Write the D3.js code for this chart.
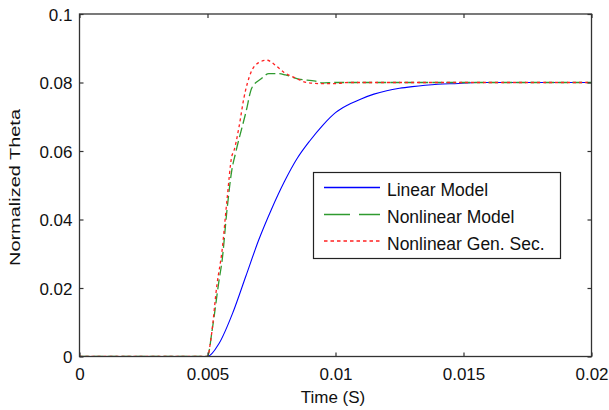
<!DOCTYPE html>
<html>
<head>
<meta charset="utf-8">
<script src="https://cdn.jsdelivr.net/npm/d3@7"></script>
<style>
  html, body { margin: 0; padding: 0; background: #fff; }
  svg text { font-family: "Liberation Sans", Arial, sans-serif; fill: #111; }
</style>
</head>
<body>
<svg id="chart" width="609" height="410"></svg>
<script>
// ---- data (time in seconds, normalized theta) ----
const linearT = [0, 0.00498, 0.0050, 0.00545, 0.0060, 0.0065, 0.0070, 0.0075, 0.0080, 0.0085, 0.0090, 0.0095, 0.0100, 0.0105, 0.0110, 0.0115, 0.0120, 0.0125, 0.0130, 0.0135, 0.0140, 0.0148, 0.0155, 0.0200];
const linearY = [0, 0, 0, 0.0038, 0.0130, 0.0235, 0.0340, 0.0430, 0.0510, 0.0578, 0.0630, 0.0675, 0.0712, 0.0735, 0.0752, 0.0766, 0.0776, 0.0783, 0.0788, 0.0792, 0.0795, 0.0797, 0.0800, 0.0800];

const nonlinT = [0, 0.00498, 0.0050, 0.00518, 0.00545, 0.00557, 0.00576, 0.00595, 0.0061, 0.0065, 0.00673, 0.00708, 0.0074, 0.00778, 0.00805, 0.00856, 0.00922, 0.00946, 0.0100, 0.0200];
const nonlinY = [0, 0, 0, 0.0076, 0.0222, 0.0280, 0.0427, 0.0544, 0.0595, 0.0713, 0.0784, 0.0810, 0.0826, 0.0826, 0.0822, 0.0810, 0.0804, 0.0799, 0.0800, 0.0800];

const genSecT = [0, 0.00495, 0.0050, 0.00514, 0.00537, 0.00557, 0.00576, 0.00595, 0.00603, 0.00623, 0.00642, 0.0067, 0.0070, 0.00732, 0.00766, 0.00798, 0.00844, 0.00887, 0.00934, 0.0100, 0.0105, 0.0200];
const genSecY = [0, 0, 0, 0.0055, 0.0210, 0.0310, 0.0456, 0.0585, 0.0600, 0.0670, 0.0754, 0.0830, 0.0858, 0.0865, 0.0850, 0.0830, 0.0813, 0.0800, 0.0797, 0.0797, 0.0800, 0.0800];

const xTicks = [0, 0.005, 0.01, 0.015, 0.02];
const xTickLabels = ["0", "0.005", "0.01", "0.015", "0.02"];
const yTicks = [0, 0.02, 0.04, 0.06, 0.08, 0.1];
const yTickLabels = ["0", "0.02", "0.04", "0.06", "0.08", "0.1"];

const seriesNames = ["Linear Model", "Nonlinear Model", "Nonlinear Gen. Sec."];
const xLabel = "Time (S)";
const yLabel = "Normalized Theta";

// ---- layout ----
const L = 79.5, R = 591.5, T = 14, B = 356.5;
const svg = d3.select("#chart");
const x = d3.scaleLinear().domain([0, 0.02]).range([L, R]);
const y = d3.scaleLinear().domain([0, 0.1]).range([B, T]);

const styles = [
  { color: "#0000ff", dash: null, legendDash: null, width: 1.1 },
  { color: "#2f9a2f", dash: "10,4", legendDash: "26,9", width: 1.3 },
  { color: "#ff2020", dash: "3,3", legendDash: "3.5,3", width: 1.3 }
];

const seriesData = [
  linearT.map((t, i) => [t, linearY[i]]),
  nonlinT.map((t, i) => [t, nonlinY[i]]),
  genSecT.map((t, i) => [t, genSecY[i]])
];

svg.append("clipPath").attr("id", "clip")
  .append("rect").attr("x", L).attr("y", T).attr("width", R - L).attr("height", B - T);

const line = d3.line().x(d => x(d[0])).y(d => y(d[1])).curve(d3.curveMonotoneX);

const plot = svg.append("g").attr("clip-path", "url(#clip)");
seriesData.forEach((d, i) => {
  plot.append("path")
    .attr("d", line(d))
    .attr("fill", "none")
    .attr("stroke", styles[i].color)
    .attr("stroke-width", styles[i].width)
    .attr("stroke-dasharray", styles[i].dash);
});

// ---- axes (MATLAB style, ticks inward on all sides) ----
const axisColor = "#333";
const tk = 4;
const fs = 17;
const ax = svg.append("g");
ax.append("rect").attr("x", L).attr("y", T).attr("width", R - L).attr("height", B - T)
  .attr("fill", "none").attr("stroke", axisColor).attr("stroke-width", 1.3);

const axBottom = d3.axisBottom(x).tickValues(xTicks).tickFormat((d, i) => xTickLabels[i]).tickSizeInner(-tk).tickSizeOuter(0).tickPadding(8);
const axTop = d3.axisTop(x).tickValues(xTicks).tickFormat("").tickSizeInner(-tk).tickSizeOuter(0);
const axLeft = d3.axisLeft(y).tickValues(yTicks).tickFormat((d, i) => yTickLabels[i]).tickSizeInner(-tk).tickSizeOuter(0).tickPadding(7);
const axRight = d3.axisRight(y).tickValues(yTicks).tickFormat("").tickSizeInner(-tk).tickSizeOuter(0);

function styleAxis(g) {
  g.select(".domain").remove();
  g.selectAll(".tick line").attr("stroke", axisColor).attr("stroke-width", 1.2);
  g.selectAll(".tick text").attr("font-size", fs).attr("fill", "#111").style("font-family", "'Liberation Sans', Arial, sans-serif");
}
const gB = ax.append("g").attr("transform", `translate(0,${B})`).call(axBottom).call(styleAxis);
gB.selectAll(".tick text").attr("dy", null).attr("y", 23.5);
ax.append("g").attr("transform", `translate(0,${T})`).call(axTop).call(styleAxis);
const gL = ax.append("g").attr("transform", `translate(${L},0)`).call(axLeft).call(styleAxis);
gL.selectAll(".tick text").attr("dy", "0.36em");
ax.append("g").attr("transform", `translate(${R},0)`).call(axRight).call(styleAxis);

// labels
svg.append("text").attr("x", 333).attr("y", 403).attr("text-anchor", "middle")
  .attr("font-size", fs).text(xLabel);
svg.append("text").attr("transform", `translate(20,187.5) rotate(-90)`)
  .attr("text-anchor", "middle").attr("font-size", 15)
  .attr("textLength", 157).attr("lengthAdjust", "spacingAndGlyphs").text(yLabel);

// ---- legend ----
const lg = svg.append("g");
lg.append("rect").attr("x", 313.5).attr("y", 172.5).attr("width", 247).attr("height", 86)
  .attr("fill", "#fff").attr("stroke", "#222").attr("stroke-width", 1.2);
const rowY = [187.5, 214.5, 241];
seriesNames.forEach((name, i) => {
  lg.append("line").attr("x1", 324).attr("x2", 380).attr("y1", rowY[i]).attr("y2", rowY[i])
    .attr("stroke", styles[i].color).attr("stroke-width", 1.3)
    .attr("stroke-dasharray", styles[i].legendDash);
  lg.append("text").attr("x", 387).attr("y", rowY[i] + 8.5).attr("font-size", 17.5).text(name);
});
</script>
</body>
</html>
